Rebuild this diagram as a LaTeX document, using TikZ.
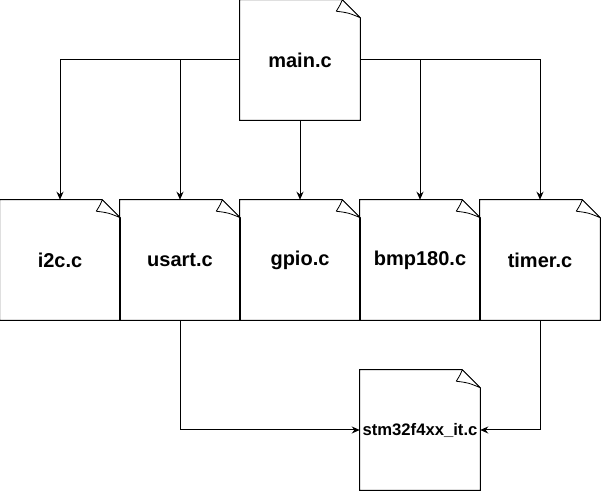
\documentclass[tikz,border=0pt]{standalone}
\usepackage{fontspec}
\setmainfont{Liberation Sans}
\usetikzlibrary{arrows.meta}

\begin{document}
\begin{tikzpicture}[
  x=0.75pt, y=-0.75pt,
  srcfile/.style={minimum width=90pt, minimum height=90pt, inner sep=0pt, font=\bfseries\fontsize{15}{18}\selectfont},
  filebody/.style={draw, line width=0.75pt, line join=miter},
  fold/.style={draw, line width=0.6pt, fill=white, line join=round},
  link/.style={-{Stealth[length=6pt, width=5.25pt]}, line width=0.75pt}
]
\useasboundingbox (0,0) rectangle (601,491);
% Top: main file
\node[srcfile] (main) at (300,60) {main.c};
% Row of modules
\node[srcfile] (i2c) at (60,260) {i2c.c};
\node[srcfile] (usart) at (180,260) {usart.c};
\node[srcfile] (gpio) at (300,260) {gpio.c};
\node[srcfile] (bmp) at (420,260) {bmp180.c};
\node[srcfile] (timer) at (540,260) {timer.c};
% Interrupt handlers
\node[srcfile, font=\bfseries\fontsize{12.5}{15}\selectfont] (it) at (420,430) {stm32f4xx\_it.c};
% Page outlines with folded corner
\foreach \f in {main,i2c,usart,gpio,bmp,timer,it} {
  \draw[filebody] (\f.north west) -- ([shift={(-18,0)}]\f.north east) -- ([shift={(0,18)}]\f.north east) -- (\f.south east) -- (\f.south west) -- cycle;
  \draw[fold] ([shift={(-18,0)}]\f.north east) .. controls ([shift={(-20,5)}]\f.north east) .. ([shift={(-24,11.5)}]\f.north east) .. controls ([shift={(-12,13)}]\f.north east) .. ([shift={(0,18)}]\f.north east) -- cycle;
}
% Connectors
\draw[link] (main.west) -| (i2c);
\draw[link] (main.west -| usart) -- (usart);
\draw[link] (main) -- (gpio);
\draw[link] (main.east -| bmp) -- (bmp);
\draw[link] (main.east) -| (timer);
\draw[link] (usart) |- (it);
\draw[link] (timer) |- (it);
\end{tikzpicture}
\end{document}
